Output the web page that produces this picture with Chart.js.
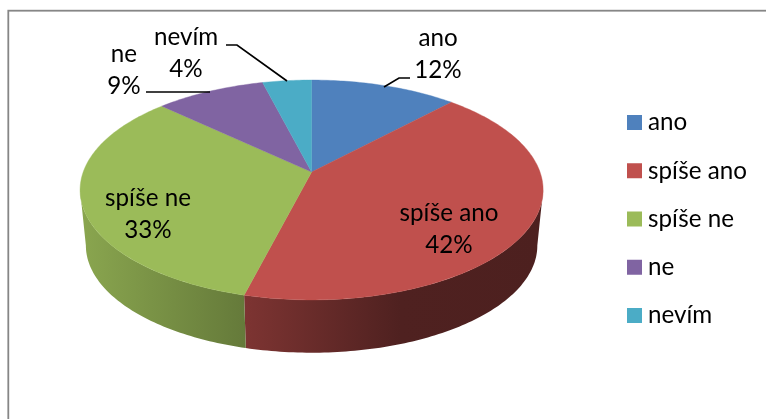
<!DOCTYPE html>
<html>
<head>
<meta charset="utf-8">
<style>
  html, body { margin: 0; padding: 0; background: #fff; }
  canvas { display: block; }
</style>
<script src="https://cdn.jsdelivr.net/npm/chart.js@4"></script>
</head>
<body>
<canvas id="chart" width="766" height="419"></canvas>
<script>
const categories = ['ano', 'spíše ano', 'spíše ne', 'ne', 'nevím'];
const values = [12, 42, 33, 9, 4];
const colors = ['#4f81bd', '#c0504d', '#9bbb59', '#8064a2', '#4bacc6'];

const FONT = '24.2px Lato';

// tilted disc: apex of the slices, radii and perspective factor
const disc = { cx: 311.6, cy: 172, rx: 228.4, ry: 107, k: 0.1635, depth: 56, shrink: 0.975 };
// brightness of the side wall from left to right
const wallShade = [[80, 0.89], [245, 0.65], [400, 0.41], [545, 0.40]];

const labelPos = [[438, 38], [449, 213], [148, 198], [124, 54], [186, 37]];
const leaders = [
  [[384, 87], [399, 78], [410, 78]],
  null,
  null,
  [[146, 92], [210, 92]],
  [[226, 45], [237, 45], [287, 81]]
];
const legendBox = { x: 627, y: 115, size: 15, step: 48.25, textX: 648 };

function project(a, bottom) {
  const u = Math.cos(a), v = Math.sin(a), w = 1 - disc.k * v;
  const s = bottom ? disc.shrink : 1;
  return [disc.cx + s * disc.rx * u / w, disc.cy + (bottom ? disc.depth : 0) + s * disc.ry * v / w];
}

function darken(hex, f) {
  const n = parseInt(hex.slice(1), 16);
  return `rgb(${Math.round((n >> 16) * f)},${Math.round(((n >> 8) & 255) * f)},${Math.round((n & 255) * f)})`;
}

function rimPoints(a0, a1, bottom) {
  const pts = [], n = Math.max(2, Math.ceil((a1 - a0) * 60));
  for (let i = 0; i <= n; i++) pts.push(project(a0 + (a1 - a0) * i / n, bottom));
  return pts;
}

function fillPath(ctx, pts, fill) {
  ctx.beginPath();
  pts.forEach((p, i) => i ? ctx.lineTo(p[0], p[1]) : ctx.moveTo(p[0], p[1]));
  ctx.closePath();
  ctx.fillStyle = fill;
  ctx.fill();
}

const pie3d = {
  id: 'pie3d',
  beforeDatasetDraw(chart, args) {
    const ctx = chart.ctx;
    const arcs = args.meta.data;
    // the wall stops where the rim turns away from the viewer
    const wallFrom = Math.asin(disc.k), wallTo = Math.PI - wallFrom;

    arcs.forEach(arc => {
      const a0 = Math.max(arc.startAngle, wallFrom), a1 = Math.min(arc.endAngle, wallTo);
      if (a1 <= a0) return;
      const g = ctx.createLinearGradient(80, 0, 545, 0);
      wallShade.forEach(s => g.addColorStop((s[0] - 80) / 465, darken(arc.options.backgroundColor, s[1])));
      fillPath(ctx, rimPoints(a0, a1, false).concat(rimPoints(a0, a1, true).reverse()), g);
    });

    arcs.forEach(arc => {
      const pts = [[disc.cx, disc.cy]].concat(rimPoints(arc.startAngle, arc.endAngle, false));
      fillPath(ctx, pts, arc.options.backgroundColor);
      ctx.strokeStyle = arc.options.backgroundColor;
      ctx.lineWidth = 0.4;
      ctx.stroke();
    });
    return false;
  },
  afterDraw(chart) {
    const ctx = chart.ctx;
    const total = values.reduce((a, b) => a + b, 0);
    ctx.save();
    ctx.strokeStyle = '#000';
    ctx.lineWidth = 1.7;
    leaders.forEach(line => {
      if (!line) return;
      ctx.beginPath();
      line.forEach((p, i) => i ? ctx.lineTo(p[0], p[1]) : ctx.moveTo(p[0], p[1]));
      ctx.stroke();
    });
    ctx.font = FONT;
    ctx.fillStyle = '#000';
    ctx.textAlign = 'center';
    ctx.textBaseline = 'middle';
    categories.forEach((c, i) => {
      ctx.fillText(c, labelPos[i][0], labelPos[i][1]);
      ctx.fillText(Math.round(values[i] / total * 100) + '%', labelPos[i][0], labelPos[i][1] + 32);
    });
    // legend, the gap between swatch and text is tighter than the built-in one
    ctx.textAlign = 'left';
    categories.forEach((c, i) => {
      const y = legendBox.y + i * legendBox.step;
      ctx.fillStyle = colors[i];
      ctx.fillRect(legendBox.x, y, legendBox.size, legendBox.size);
      ctx.fillStyle = '#000';
      ctx.fillText(c, legendBox.textX, y + legendBox.size / 2);
    });
    // chart frame
    ctx.strokeStyle = '#868686';
    ctx.lineWidth = 1.8;
    ctx.strokeRect(8.3, 10.7, 800, 500);
    ctx.restore();
  }
};

new Chart(document.getElementById('chart').getContext('2d'), {
  type: 'pie',
  data: {
    labels: categories,
    datasets: [{ data: values, backgroundColor: colors, borderWidth: 0 }]
  },
  options: {
    responsive: false,
    animation: false,
    plugins: {
      tooltip: { enabled: false },
      legend: { display: false }
    }
  },
  plugins: [pie3d]
});
</script>
</body>
</html>
